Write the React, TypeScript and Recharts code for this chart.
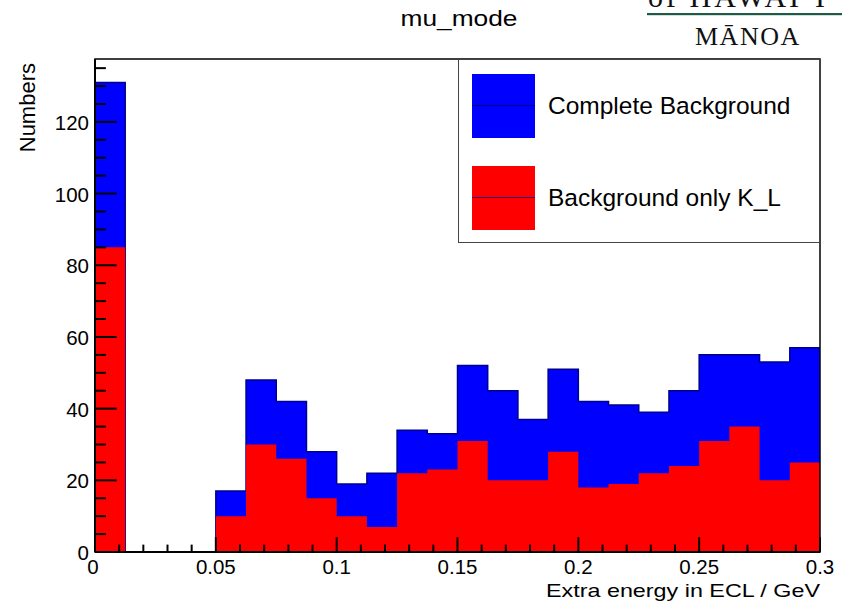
import React from 'react';
import { ComposedChart, Area, XAxis, YAxis, ReferenceArea, Legend } from 'recharts';

// Histogram bins (lower edges, GeV), width 0.0125
const binLow = [0, 0.0125, 0.025, 0.0375, 0.05, 0.0625, 0.075, 0.0875, 0.1, 0.1125, 0.125, 0.1375,
  0.15, 0.1625, 0.175, 0.1875, 0.2, 0.2125, 0.225, 0.2375, 0.25, 0.2625, 0.275, 0.2875];
const xUpper = 0.3;
const completeBackground = [131, 0, 0, 0, 17, 48, 42, 28, 19, 22, 34, 33, 52, 45, 37, 51, 42, 41, 39, 45, 55, 55, 53, 57];
const backgroundOnlyKL = [85, 0, 0, 0, 10, 30, 26, 15, 10, 7, 22, 23, 31, 20, 20, 28, 18, 19, 22, 24, 31, 35, 20, 25];

const seriesNames = ['Complete Background', 'Background only K_L'];
const seriesColors = ['#0000ff', '#ff0000'];

const xMajorTicks = [0, 0.05, 0.1, 0.15, 0.2, 0.25, 0.3];
const xMinorTicks = [0.01, 0.02, 0.03, 0.04, 0.06, 0.07, 0.08, 0.09, 0.11, 0.12, 0.13, 0.14, 0.16, 0.17, 0.18, 0.19,
  0.21, 0.22, 0.23, 0.24, 0.26, 0.27, 0.28, 0.29];
const yMajorTicks = [0, 20, 40, 60, 80, 100, 120];
const yMinorTicks = [5, 10, 15, 25, 30, 35, 45, 50, 55, 65, 70, 75, 85, 90, 95, 105, 110, 115, 125, 130, 135];
const yMax = 137.55;

const title = 'mu_mode';
const xTitle = 'Extra energy in ECL / GeV';
const yTitle = 'Numbers';

const FONT = '"Liberation Sans", Arial, Helvetica, sans-serif';
const SERIF = '"Liberation Serif", "DejaVu Serif", serif';

const data = [
  ...binLow.map((x, i) => ({ x, complete: completeBackground[i], kl: backgroundOnlyKL[i] })),
  { x: xUpper, complete: completeBackground[completeBackground.length - 1], kl: backgroundOnlyKL[backgroundOnlyKL.length - 1] },
];

const W = 842;
const H = 603;
const MARGIN = { top: 59, right: 22, bottom: 50, left: 94 };
const AXIS_W = 1;
const AXIS_H = 1;
// plot box implied by the chart margins and axis sizes
const plotLeft = MARGIN.left + AXIS_W;
const plotRight = W - MARGIN.right;
const plotTop = MARGIN.top;
const plotBottom = H - MARGIN.bottom - AXIS_H;
const tx = (v: number) => plotLeft + (v / xUpper) * (plotRight - plotLeft);
const ty = (v: number) => plotBottom - (v / yMax) * (plotBottom - plotTop);

const renderXTick = (props: any) => {
  const { x, y, payload } = props;
  const v = payload.value;
  return (
    <text key={`xt-${v}`} x={v === 0 ? x - 2 : x} y={y + 22} textAnchor="middle" fontSize={20.5} fontFamily={FONT} fill="#000">
      {String(v)}
    </text>
  );
};

const renderYTick = (props: any) => {
  const { x, y, payload } = props;
  const v = payload.value;
  return (
    <text key={`yt-${v}`} x={x - 6} y={y + 8} textAnchor="end" fontSize={20.5} fontFamily={FONT} fill="#000">
      {String(v)}
    </text>
  );
};

const LegendBox = () => (
  <div
    style={{
      width: 362,
      height: 184,
      border: '1.5px solid #444',
      boxSizing: 'border-box',
      background: '#fff',
      position: 'relative',
      fontFamily: FONT,
      fontSize: 24.5,
      color: '#000',
    }}
  >
    {seriesNames.map((name, i) => (
      <React.Fragment key={name}>
        <div
          style={{
            position: 'absolute',
            left: 13,
            top: 14 + i * 92,
            width: 63,
            height: 64,
            background: seriesColors[i],
          }}
        >
          <div style={{ position: 'absolute', left: 0, right: 0, top: 31, height: 1, background: i === 0 ? '#000080' : '#400080' }} />
        </div>
        <div style={{ position: 'absolute', left: 89, top: 32 + i * 92, lineHeight: '28px', whiteSpace: 'nowrap' }}>{name}</div>
      </React.Fragment>
    ))}
  </div>
);

export default function App() {
  return (
    <div style={{ position: 'absolute', left: 0, top: 0, width: W, height: H, background: '#fff' }}>
      <div style={{ position: 'absolute', left: 0, top: 0, zIndex: 1 }}>
        <ComposedChart width={W} height={H} data={data} margin={MARGIN}>
          <Area
            type="stepAfter"
            dataKey="complete"
            name={seriesNames[0]}
            fill={seriesColors[0]}
            fillOpacity={1}
            stroke="#00008f"
            strokeWidth={1.5}
            dot={false}
            activeDot={false}
            isAnimationActive={false}
          />
          <Area
            type="stepAfter"
            dataKey="kl"
            name={seriesNames[1]}
            fill={seriesColors[1]}
            fillOpacity={1}
            stroke="none"
            dot={false}
            activeDot={false}
            isAnimationActive={false}
          />
          <ReferenceArea x1={0} x2={xUpper} y1={0} y2={yMax} fill="none" fillOpacity={0} stroke="#000" strokeWidth={1.5} ifOverflow="visible" />
          <XAxis
            dataKey="x"
            type="number"
            domain={[0, xUpper]}
            allowDataOverflow
            ticks={xMajorTicks}
            interval={0}
            height={AXIS_H}
            tickSize={0}
            tickMargin={0}
            axisLine={false}
            tickLine={false}
            tick={renderXTick}
          />
          <YAxis
            type="number"
            domain={[0, yMax]}
            allowDataOverflow
            ticks={yMajorTicks}
            interval={0}
            width={AXIS_W}
            tickSize={0}
            tickMargin={0}
            axisLine={false}
            tickLine={false}
            tick={renderYTick}
          />
          <Legend
            layout="vertical"
            align="center"
            verticalAlign="middle"
            content={() => <LegendBox />}
            wrapperStyle={{ left: 458, top: 59, width: 362, height: 184, margin: 0 }}
          />
        </ComposedChart>
      </div>
      <svg
        width={W}
        height={H}
        style={{ position: 'absolute', left: 0, top: 0, zIndex: 10, pointerEvents: 'none' }}
      >
        {/* ROOT-style inward tick marks */}
        <g stroke="#000" strokeWidth={2}>
          {xMajorTicks.map((v) => (
            <line key={`xM${v}`} x1={tx(v)} x2={tx(v)} y1={plotBottom} y2={plotBottom - 14.8} />
          ))}
          {xMinorTicks.map((v) => (
            <line key={`xm${v}`} x1={tx(v)} x2={tx(v)} y1={plotBottom} y2={plotBottom - 7.4} />
          ))}
          {yMajorTicks.map((v) => (
            <line key={`yM${v}`} x1={plotLeft} x2={plotLeft + 21.7} y1={ty(v)} y2={ty(v)} />
          ))}
          {yMinorTicks.map((v) => (
            <line key={`ym${v}`} x1={plotLeft} x2={plotLeft + 10.9} y1={ty(v)} y2={ty(v)} />
          ))}
          <line x1={plotLeft} x2={plotLeft} y1={plotTop} y2={plotBottom} />
          <line x1={plotLeft} x2={plotRight} y1={plotBottom} y2={plotBottom} />
        </g>
        <text x={459} y={26} textAnchor="middle" fontSize={22} textLength={117} lengthAdjust="spacingAndGlyphs" fontFamily={FONT} fill="#000">{title}</text>
        <text x={820} y={597} textAnchor="end" fontSize={19} textLength={274} lengthAdjust="spacingAndGlyphs" fontFamily={FONT} fill="#000">{xTitle}</text>
        <text
          transform="translate(35,63) rotate(-90)"
          textAnchor="end"
          fontSize={22}
          fontFamily={FONT}
          fill="#000"
        >
          {yTitle}
        </text>
        <text x={648} y={7} fontSize={30} fontFamily={SERIF} fill="#111" letterSpacing={3}>
          of HAWAIʻI
        </text>
        <rect x={647} y={13} width={195} height={2.2} fill="#1e5a45" />
        <text x={695} y={45} fontSize={26} fontFamily={SERIF} fill="#111" letterSpacing={1.5}>
          MĀNOA
        </text>
      </svg>
    </div>
  );
}
